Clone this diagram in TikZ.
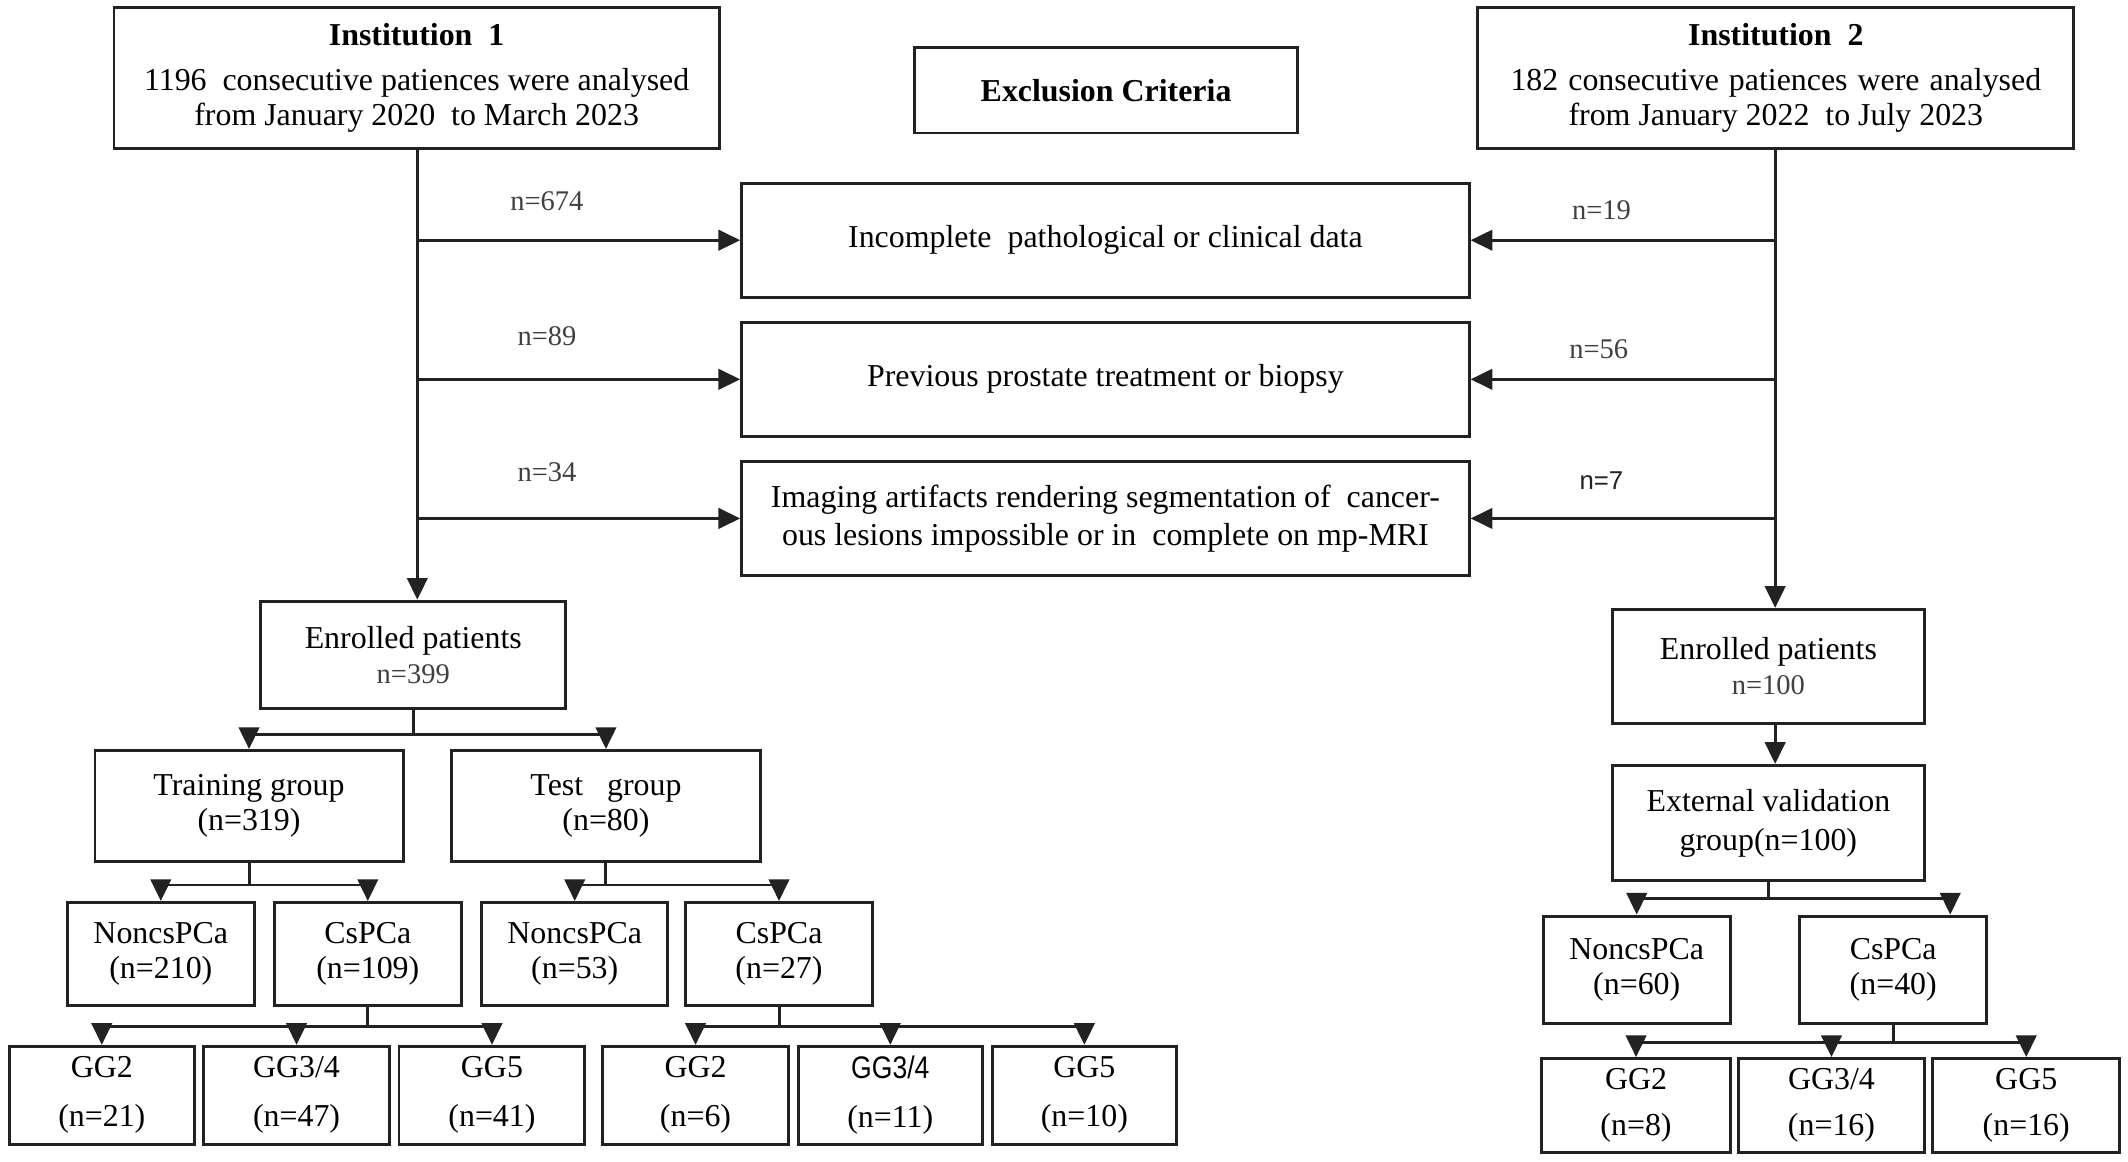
\documentclass[tikz,border=0pt]{standalone}
\usepackage{fontspec}
\setmainfont{Liberation Serif}
\newfontfamily\sansf{Liberation Sans}
\usetikzlibrary{arrows.meta}
\definecolor{lc}{HTML}{222222}
\newcommand{\fmain}{\fontsize{23.5pt}{26pt}\selectfont}
\newcommand{\fsmall}{\fontsize{21pt}{24pt}\selectfont}
\begin{document}
\begin{tikzpicture}[x=1pt,y=-1pt,
  box/.style={draw=lc, line width=2.2pt, inner sep=0pt, align=center, font=\fmain},
  lbl/.style={font=\fsmall, text=black!75, inner sep=0pt},
  ln/.style={draw=lc, line width=2.2pt},
  arr/.style={draw=lc, line width=2.2pt, -{Triangle[length=16pt,width=15pt]}}]
\useasboundingbox (0,0) rectangle (1568,856);
\coordinate (tL) at (307.5,0);
\coordinate (tR) at (1308,0);
\coordinate (aR) at (1437,0);
% top row
\node[box, minimum width=446pt, minimum height=104pt] (inst1) at (307,57.5)
  {\textbf{Institution~~1}\\[7pt]1196~~consecutive patiences were analysed\\from January 2020~~to March 2023};
\node[box, minimum width=282pt, minimum height=63pt] (excl) at (815,66.5) {\textbf{Exclusion Criteria}};
\node[box, minimum width=439pt, minimum height=104pt] (inst2) at (1308.5,57.5)
  {\textbf{Institution~~2}\\[7pt]\makebox[391pt][s]{182\hfil consecutive\hfil patiences\hfil were\hfil analysed}\\from January 2022~~to July 2023};
% exclusion boxes
\node[box, minimum width=536pt, minimum height=84pt] (ex1) at (814.5,177) {Incomplete~~pathological or clinical data};
\node[box, minimum width=536pt, minimum height=84pt] (ex2) at (814.5,279.5) {Previous prostate treatment or biopsy};
\node[box, minimum width=536pt, minimum height=84pt] (ex3) at (814.5,382)
  {Imaging artifacts rendering segmentation of~~cancer-\\[2pt]ous lesions impossible or in~~complete on mp-MRI};
% labels
\node[lbl] (l674) at (403,148) {n=674};
\node[lbl] (l89) at (403,248) {n=89};
\node[lbl] (l34) at (403,348) {n=34};
\node[lbl] (l19) at (1180,155) {n=19};
\node[lbl] (l56) at (1178,257) {n=56};
\node[lbl, font=\sansf\fontsize{19pt}{22pt}\selectfont, text=lc] (l7) at (1180,354) {n=7};
% left tree
\node[box, minimum width=225pt, minimum height=79pt] (enr1) at (304.5,482.5)
  {Enrolled patients\\{\fsmall\color{black!75}n=399}};
\node[box, minimum width=227pt, minimum height=82pt] (train) at (183.5,594) {Training group\\(n=319)};
\node[box, minimum width=227pt, minimum height=82pt] (test) at (446.5,594) {Test~~~group\\(n=80)};
\node[box, minimum width=138pt, minimum height=76pt] (nc1) at (118.5,703) {NoncsPCa\\(n=210)};
\node[box, minimum width=138pt, minimum height=76pt] (cs1) at (271,703) {CsPCa\\(n=109)};
\node[box, minimum width=137pt, minimum height=76pt] (nc2) at (423.5,703) {NoncsPCa\\(n=53)};
\node[box, minimum width=138pt, minimum height=76pt] (cs2) at (574,703) {CsPCa\\(n=27)};
\node[box, minimum width=136pt, minimum height=72pt] (ga1) at (75,807) {GG2\\[10pt](n=21)};
\node[box, minimum width=137pt, minimum height=72pt] (gb1) at (218.5,807) {GG3/4\\[10pt](n=47)};
\node[box, minimum width=137pt, minimum height=72pt] (gc1) at (362.5,807) {GG5\\[10pt](n=41)};
\node[box, minimum width=137pt, minimum height=72pt] (ga2) at (512.5,807) {GG2\\[10pt](n=6)};
\node[box, minimum width=136pt, minimum height=72pt] (gb2) at (656,807) {{\sansf\fontsize{23pt}{24pt}\selectfont\scalebox{0.85}[1]{GG3/4}}\\[10pt](n=11)};
\node[box, minimum width=136pt, minimum height=72pt] (gc2) at (799,807) {GG5\\[10pt](n=10)};
% right tree
\node[box, minimum width=230pt, minimum height=84pt] (enr2) at (1303,491)
  {Enrolled patients\\{\fsmall\color{black!75}n=100}};
\node[box, minimum width=230pt, minimum height=85pt] (ext) at (1303,606.5) {External validation\\[3pt]group(n=100)};
\node[box, minimum width=138pt, minimum height=79pt] (nc3) at (1206,714.5) {NoncsPCa\\(n=60)};
\node[box, minimum width=138pt, minimum height=79pt] (cs3) at (1395,714.5) {CsPCa\\(n=40)};
\node[box, minimum width=139pt, minimum height=69pt] (ga3) at (1205.5,814.5) {GG2\\[8pt](n=8)};
\node[box, minimum width=137pt, minimum height=69pt] (gb3) at (1349.5,814.5) {GG3/4\\[8pt](n=16)};
\node[box, minimum width=138pt, minimum height=69pt] (gc3) at (1493,814.5) {GG5\\[8pt](n=16)};
% trunks and exclusion arrows
\draw[arr] (inst1.south -| tL) -- (enr1.north -| tL);
\foreach \e in {ex1,ex2,ex3} \draw[arr] (tL |- \e.west) -- (\e.west);
\draw[arr] (inst2.south -| tR) -- (enr2.north -| tR);
\foreach \e in {ex1,ex2,ex3} \draw[arr] (tR |- \e.east) -- (\e.east);
% left branching
\draw[ln] (enr1.south) -- ++(0,18) coordinate (j1);
\draw[ln] (j1 -| train.north) -- (j1 -| test.north);
\foreach \n in {train,test} \draw[arr] (j1 -| \n.north) -- (\n.north);
\draw[ln] (train.south) -- ++(0,16) coordinate (j2);
\draw[ln] (j2 -| nc1.north) -- (j2 -| cs1.north);
\foreach \n in {nc1,cs1} \draw[arr] (j2 -| \n.north) -- (\n.north);
\draw[ln] (test.south) -- ++(0,16) coordinate (j3);
\draw[ln] (j3 -| nc2.north) -- (j3 -| cs2.north);
\foreach \n in {nc2,cs2} \draw[arr] (j3 -| \n.north) -- (\n.north);
\draw[ln] (cs1.south) -- ++(0,14) coordinate (j4);
\draw[ln] (j4 -| ga1.north) -- (j4 -| gc1.north);
\foreach \n in {ga1,gb1,gc1} \draw[arr] (j4 -| \n.north) -- (\n.north);
\draw[ln] (cs2.south) -- ++(0,14) coordinate (j5);
\draw[ln] (j5 -| ga2.north) -- (j5 -| gc2.north);
\foreach \n in {ga2,gb2,gc2} \draw[arr] (j5 -| \n.north) -- (\n.north);
% right branching
\draw[arr] (enr2.south -| tR) -- (ext.north -| tR);
\draw[ln] (ext.south) -- ++(0,12) coordinate (j6);
\draw[ln] (j6 -| nc3.north) -- (j6 -| aR);
\draw[arr] (j6 -| nc3.north) -- (nc3.north);
\draw[arr] (j6 -| aR) -- (aR |- cs3.north);
\draw[ln] (cs3.south) -- ++(0,13) coordinate (j7);
\draw[ln] (j7 -| ga3.north) -- (j7 -| gc3.north);
\foreach \n in {ga3,gb3,gc3} \draw[arr] (j7 -| \n.north) -- (\n.north);
\end{tikzpicture}
\end{document}
